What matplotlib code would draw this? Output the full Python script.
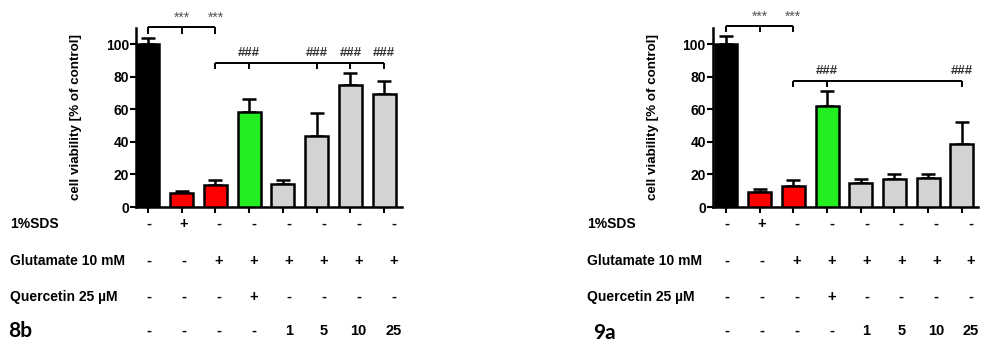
import numpy as np
import matplotlib
matplotlib.use('Agg')
import matplotlib.pyplot as plt
from matplotlib.transforms import blended_transform_factory

# ==========================================
# Data
# ==========================================
bar_colors = ['black', '#ff0000', '#ff0000', '#22ee22',
              '#d3d3d3', '#d3d3d3', '#d3d3d3', '#d3d3d3']

vals_8b = [100, 8.6, 13.3, 58.5, 14.2, 43.9, 74.7, 69.4]
err_8b = [4.0, 1.3, 3.5, 7.6, 2.2, 13.6, 7.4, 8.0]

vals_9a = [100, 9.2, 12.9, 62.3, 15.0, 17.4, 18.0, 38.9]
err_9a = [4.9, 1.7, 3.9, 9.0, 2.2, 2.9, 2.0, 13.4]

row_labels = ['1%SDS', 'Glutamate 10 mM', 'Quercetin 25 \u00b5M']
sds_row = ['-', '+', '-', '-', '-', '-', '-', '-']
glu_row = ['-', '-', '+', '+', '+', '+', '+', '+']
quer_row = ['-', '-', '-', '+', '-', '-', '-', '-']
conc_row = ['-', '-', '-', '-', '1', '5', '10', '25']

# significance: (bracket y, label y, ticked bars, labelled bars)
stars_8b = (110.3, 116.0, [0, 1, 2], [1, 2])
hash_8b = (88.5, 94.5, [2, 3, 5, 6, 7], [3, 5, 6, 7])
stars_9a = (111.3, 116.8, [0, 1, 2], [1, 2])
hash_9a = (77.5, 83.5, [2, 3, 7], [3, 7])

FONT = 'Liberation Sans'


def bracket(ax, spec, text, tick_len, **kw):
    y, ty, ticks, labelled = spec
    ax.plot([min(ticks), max(ticks)], [y, y], color='black', lw=1.4,
            clip_on=False, solid_capstyle='butt')
    for t in ticks:
        ax.plot([t, t], [y, y - tick_len], color='black', lw=1.4,
                clip_on=False, solid_capstyle='butt')
    for t in labelled:
        ax.text(t, ty, text, ha='center', va='center', **kw)


def draw_panel(fig, rect, vals, errs, xlim, stars, hashes, tag, tag_xy, label_x):
    ax = fig.add_axes(rect)
    x = np.arange(len(vals))
    ax.bar(x, vals, width=0.68, color=bar_colors, edgecolor='black',
           linewidth=1.8, zorder=3)
    ax.errorbar(x, vals, yerr=[np.zeros(len(errs)), errs], fmt='none',
                ecolor='black', elinewidth=1.8, capsize=5, capthick=1.8,
                zorder=2)
    ax.set_xlim(*xlim)
    ax.set_ylim(0, 110)
    ax.set_yticks([0, 20, 40, 60, 80, 100])
    ax.set_xticks(x)
    ax.set_xticklabels([])
    for s in ['top', 'right']:
        ax.spines[s].set_visible(False)
    for s in ['left', 'bottom']:
        ax.spines[s].set_linewidth(1.8)
    ax.tick_params(direction='out', length=4, width=1.5, pad=1)
    for lab in ax.get_yticklabels():
        lab.set_fontfamily(FONT)
        lab.set_fontweight('bold')
        lab.set_fontsize(10)
    ax.set_ylabel('cell viability [% of control]', fontfamily=FONT,
                  fontweight='bold', fontsize=9.6, labelpad=17)

    bracket(ax, stars, '***', 4.0, fontsize=10, color='#555555',
            fontfamily=FONT)
    bracket(ax, hashes, '###', 3.5, fontsize=9.5, color='#333333',
            fontfamily=FONT, fontweight='bold')

    # treatment table under the bars
    tr = blended_transform_factory(ax.transData, fig.transFigure)
    rows = [sds_row, glu_row, quer_row, conc_row]
    row_y = [0.347, 0.239, 0.134, 0.035]
    sign_x = x * 1.035 + 0.03
    for r, yy in zip(rows, row_y):
        for xi, s in zip(sign_x, r):
            ax.text(xi, yy, s, transform=tr, ha='center', va='center',
                    fontfamily=FONT, fontweight='bold', fontsize=10.5)
    for lab, yy in zip(row_labels, row_y[:3]):
        fig.text(label_x, yy, lab, ha='left', va='center', fontfamily=FONT,
                 fontweight='bold', fontsize=10)
    fig.text(tag_xy[0], tag_xy[1], tag, ha='left', va='center',
             fontfamily='Lato', fontweight='bold', fontsize=15)
    return ax


fig = plt.figure(figsize=(9.86, 3.43), dpi=100)

draw_panel(fig, [136 / 986, 0.3965, 266 / 986, 0.522], vals_8b, err_8b,
           (-0.356, 7.53), stars_8b, hash_8b, '8b', (8 / 986, 0.034), 10 / 986)
draw_panel(fig, [712.7 / 986, 0.3965, 265.3 / 986, 0.522], vals_9a, err_9a,
           (-0.395, 7.48), stars_9a, hash_9a, '9a', (593 / 986, 0.03),
           587 / 986)

fig.savefig('out.png', dpi=100)
